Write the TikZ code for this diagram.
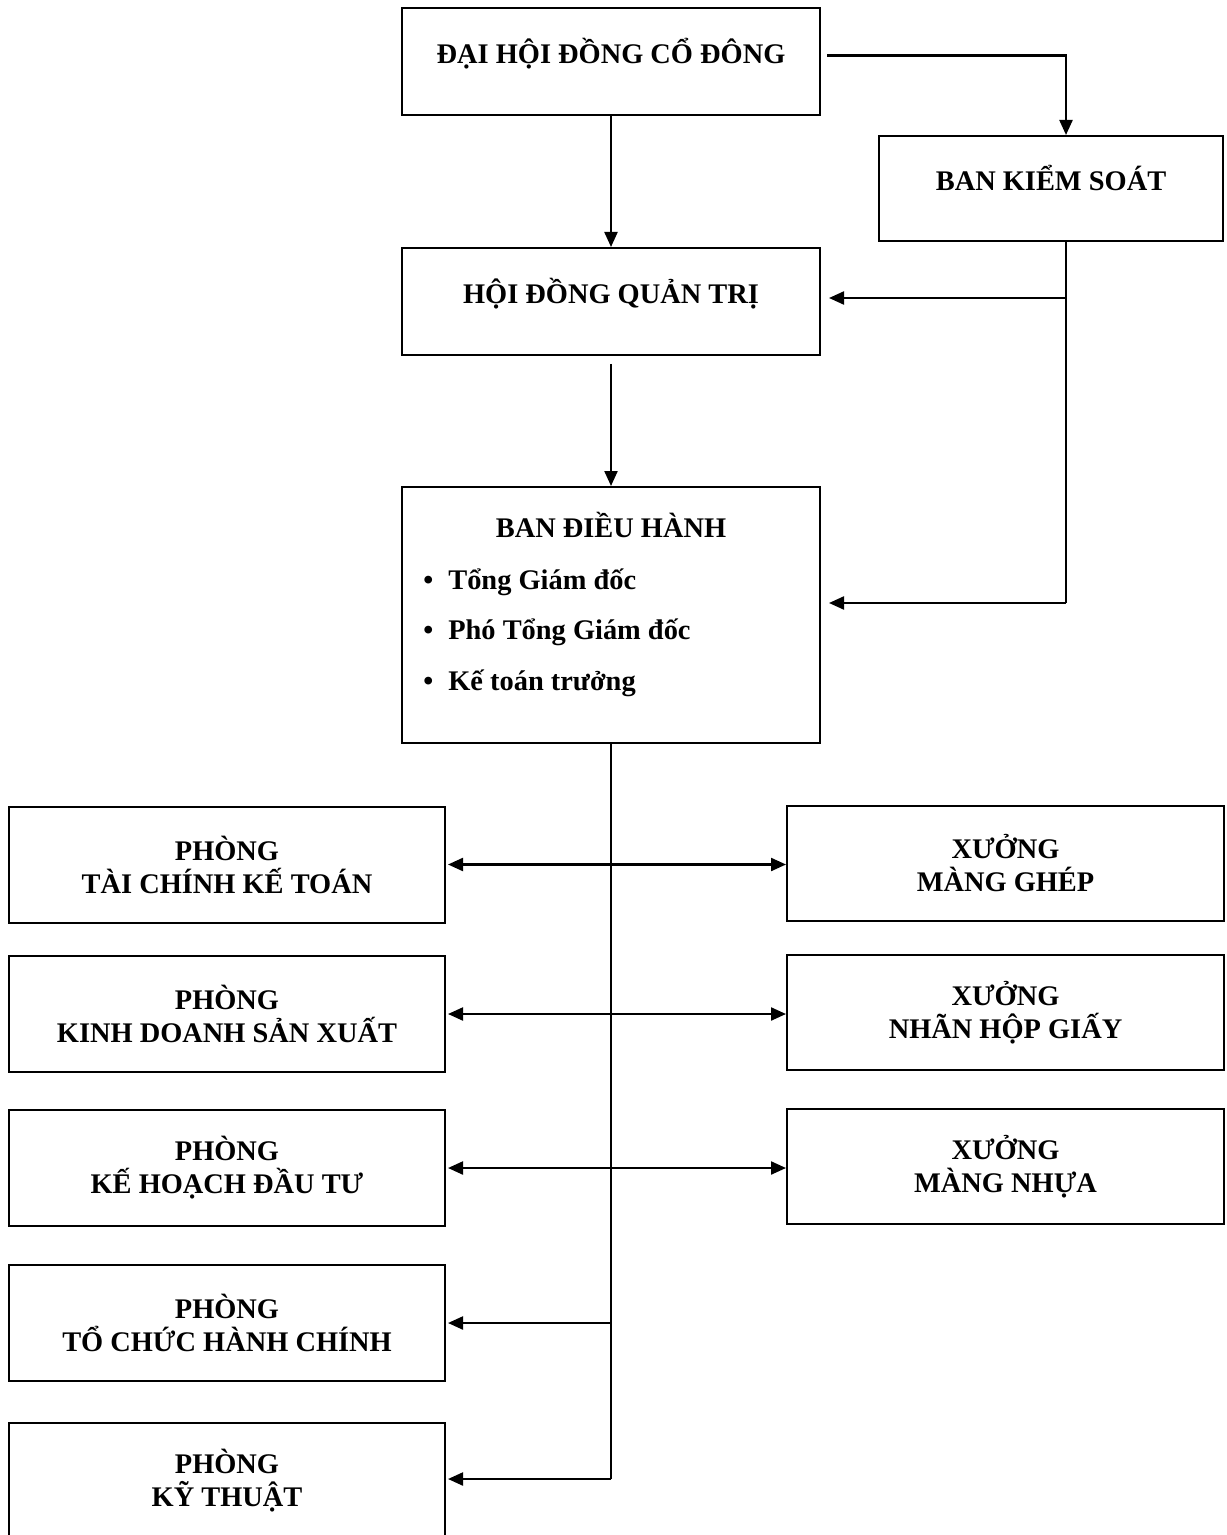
\documentclass[tikz,border=0pt]{standalone}
\usepackage{fontspec}
\setmainfont{Liberation Serif}
\usetikzlibrary{arrows.meta, calc, positioning}

\begin{document}
\begin{tikzpicture}[x=0.5pt, y=-0.5pt,
    box/.style={draw, line width=1pt, align=center, inner sep=0pt,
        font=\bfseries\fontsize{14.2}{16.5}\selectfont},
    topbox/.style={box, text depth=11pt},
    dept/.style={box, minimum width=218pt, minimum height=58pt},
    shop/.style={box, minimum width=218.5pt, minimum height=57.5pt},
    item/.style={anchor=base west, inner sep=0pt, font=\bfseries\fontsize{14.2}{16}\selectfont},
    arr/.style={-{Triangle[length=7.5pt,width=6.5pt]}, line width=1.1pt},
    arrtwo/.style={{Triangle[length=7.5pt,width=6.5pt]}-{Triangle[length=7.5pt,width=6.5pt]}, line width=1.1pt},
    lnk/.style={line width=1pt}]
    \useasboundingbox (0,0) rectangle (1226,1535);

    % Top levels
    \node[topbox, minimum width=209pt, minimum height=53.5pt] (dhd) at (611,61.5) {ĐẠI HỘI ĐỒNG CỔ ĐÔNG};
    \node[topbox, minimum width=172pt, minimum height=52.5pt] (bks) at (1051,188.5) {BAN KIỂM SOÁT};
    \node[topbox, minimum width=209pt, minimum height=53.5pt] (hdqt) at (611,301.5) {HỘI ĐỒNG QUẢN TRỊ};

    % Executive board
    \node[box, minimum width=209pt, minimum height=128pt] (bdh) at (611,615) {};
    \node[box, draw=none, anchor=base] (bdhtitle) at (611,537) {BAN ĐIỀU HÀNH};
    \node[item] (tgd) at (423,589) {•\hspace{7.5pt}Tổng Giám đốc};
    \node[item] (ptgd) at (423,639) {•\hspace{7.5pt}Phó Tổng Giám đốc};
    \node[item] (ktt) at (423,690) {•\hspace{7.5pt}Kế toán trưởng};

    % Departments
    \node[dept] (p1) at (227,864.5) {PHÒNG\\TÀI CHÍNH KẾ TOÁN};
    \node[dept] (p2) at (227,1014) {PHÒNG\\KINH DOANH SẢN XUẤT};
    \node[dept] (p3) at (227,1168) {PHÒNG\\KẾ HOẠCH ĐẦU TƯ};
    \node[dept] (p4) at (227,1323) {PHÒNG\\TỔ CHỨC HÀNH CHÍNH};
    \node[dept] (p5) at (227,1481) {PHÒNG\\KỸ THUẬT};

    % Workshops
    \node[shop] (x1) at (1005.5,863.5) {XƯỞNG\\MÀNG GHÉP};
    \node[shop] (x2) at (1005.5,1012.5) {XƯỞNG\\NHÃN HỘP GIẤY};
    \node[shop] (x3) at (1005.5,1166.5) {XƯỞNG\\MÀNG NHỰA};

    % Connectors
    \coordinate (k1) at (1066,298);
    \coordinate (k2) at (1066,603);
    \coordinate (b5) at (611,1479);
    \draw[arr] ([xshift=3pt,yshift=3pt]dhd.east) -| ([xshift=7.5pt]bks.north);
    \draw[arr] (dhd) -- (hdqt);
    \draw[lnk] ([xshift=7.5pt]bks.south) -- (k2);
    \draw[arr, shorten >=4pt] (k1) -- (k1 -| hdqt.east);
    \draw[arr, shorten >=4pt] (k2) -- (k2 -| bdh.east);
    \draw[arr, shorten <=4pt] (hdqt) -- (bdh);
    \draw[lnk] (bdh.south) -- (b5);
    \draw[arrtwo] ([xshift=1pt]p1.east) -- (p1.east -| x1.west);
    \draw[arrtwo] ([xshift=1pt]p2.east) -- (p2.east -| x2.west);
    \draw[arrtwo] ([xshift=1pt]p3.east) -- (p3.east -| x3.west);
    \draw[arr, shorten >=1pt] (bdh.south |- p4.east) -- (p4.east);
    \draw[arr, shorten >=1pt] (b5) -- (b5 -| p5.east);
\end{tikzpicture}
\end{document}
